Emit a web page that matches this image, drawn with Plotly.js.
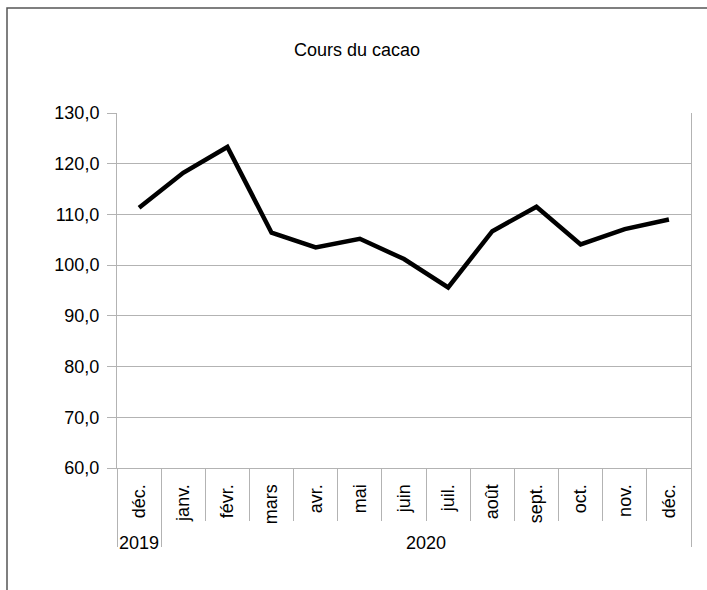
<!DOCTYPE html>
<html>
<head>
<meta charset="utf-8">
<script src="https://cdn.plot.ly/plotly-3.0.1.min.js"></script>
<style>
  html, body { margin: 0; padding: 0; background: #ffffff; }
  #chart { width: 707px; height: 590px; }
</style>
</head>
<body>
<div id="chart"></div>
<script>
// ---- data ----
const years  = ['2019', '2020', '2020', '2020', '2020', '2020', '2020', '2020', '2020', '2020', '2020', '2020', '2020'];
const months = ['déc.', 'janv.', 'févr.', 'mars', 'avr.', 'mai', 'juin', 'juil.', 'août', 'sept.', 'oct.', 'nov.', 'déc.'];
const values = [111.3, 118.2, 123.3, 106.4, 103.5, 105.2, 101.2, 95.6, 106.7, 111.5, 104.1, 107.1, 109.0];
const yTicks = [60, 70, 80, 90, 100, 110, 120, 130];
const titleText = 'Cours du cacao';

const FONT = 'Liberation Sans, Arial, sans-serif';
const GRID = '#b3b3b3';

// category positions (index of each month on the axis)
const idx = months.map((_, i) => i);
const xRange = [-0.5, months.length - 0.5];
const boundaries = months.map((_, i) => i - 0.5).concat([months.length - 0.5]);

// year groups: label at the centre of its months, dividers at group edges
const yearNames = [];
const yearCenters = [];
const dividers = [];
years.forEach((y, i) => {
  if (i === 0 || y !== years[i - 1]) {
    yearNames.push(y);
    dividers.push(i - 0.5);
  }
});
dividers.push(years.length - 0.5);
yearNames.forEach(y => {
  const ids = idx.filter(i => years[i] === y);
  yearCenters.push((ids[0] + ids[ids.length - 1]) / 2);
});

const trace = {
  type: 'scatter',
  mode: 'lines',
  x: idx,
  y: values,
  line: { color: '#000000', width: 4.5, shape: 'linear' },
  hoverinfo: 'skip'
};

// invisible traces so that the overlaid helper axes get drawn
const helpers = ['x2', 'x3', 'x4'].map(ax => ({
  type: 'scatter',
  mode: 'none',
  x: idx,
  y: values,
  xaxis: ax,
  yaxis: 'y',
  hoverinfo: 'skip',
  showlegend: false
}));

const baseX = {
  type: 'linear',
  range: xRange,
  autorange: false,
  showgrid: false,
  zeroline: false,
  fixedrange: true
};

const layout = {
  width: 707,
  height: 590,
  margin: { l: 117, r: 16, t: 113, b: 122, pad: 0 },
  paper_bgcolor: '#ffffff',
  plot_bgcolor: '#ffffff',
  separators: ', ',
  showlegend: false,
  font: { family: FONT, size: 18, color: '#000000' },
  title: {
    text: titleText,
    font: { family: FONT, size: 18, color: '#000000' },
    x: 0.505, xref: 'container', xanchor: 'center',
    y: 1 - 50 / 590, yref: 'container', yanchor: 'middle'
  },
  // month labels
  xaxis: Object.assign({}, baseX, {
    tickmode: 'array',
    tickvals: idx,
    ticktext: months,
    tickangle: -90,
    ticks: '',
    showline: true,
    linecolor: GRID,
    linewidth: 1,
    ticklabelstandoff: 8,
    tickfont: { family: FONT, size: 18, color: '#000000' }
  }),
  // month separators
  xaxis2: Object.assign({}, baseX, {
    overlaying: 'x', anchor: 'y', side: 'bottom',
    tickmode: 'array',
    tickvals: boundaries,
    ticks: 'outside',
    ticklen: 52,
    tickcolor: GRID,
    tickwidth: 1,
    showticklabels: false,
    showline: false
  }),
  // year labels
  xaxis3: Object.assign({}, baseX, {
    overlaying: 'x', anchor: 'y', side: 'bottom',
    tickmode: 'array',
    tickvals: yearCenters,
    ticktext: yearNames,
    ticks: '',
    ticklabelstandoff: 62,
    showline: false,
    tickfont: { family: FONT, size: 18, color: '#000000' }
  }),
  // year dividers
  xaxis4: Object.assign({}, baseX, {
    overlaying: 'x', anchor: 'y', side: 'bottom',
    tickmode: 'array',
    tickvals: dividers,
    ticks: 'outside',
    ticklen: 78,
    tickcolor: GRID,
    tickwidth: 1,
    showticklabels: false,
    showline: false
  }),
  yaxis: {
    range: [60, 130],
    autorange: false,
    tickmode: 'array',
    tickvals: yTicks,
    tickformat: '.1f',
    showgrid: true,
    gridcolor: GRID,
    gridwidth: 1,
    zeroline: false,
    showline: true,
    mirror: true,
    linecolor: GRID,
    linewidth: 1,
    ticks: 'outside',
    ticklen: 9,
    tickcolor: GRID,
    tickwidth: 1,
    ticklabelstandoff: 4,
    fixedrange: true,
    tickfont: { family: FONT, size: 18, color: '#000000' }
  },
  shapes: [{
    type: 'rect',
    xref: 'paper', yref: 'paper',
    x0: (7 - 117) / 574, x1: (760 - 117) / 574,
    y0: (468 - 640) / 355, y1: (468 - 8) / 355,
    line: { color: '#555555', width: 1.5 },
    fillcolor: 'rgba(0,0,0,0)',
    layer: 'above'
  }]
};

Plotly.newPlot('chart', [trace].concat(helpers), layout, { staticPlot: true, displayModeBar: false });
</script>
</body>
</html>
